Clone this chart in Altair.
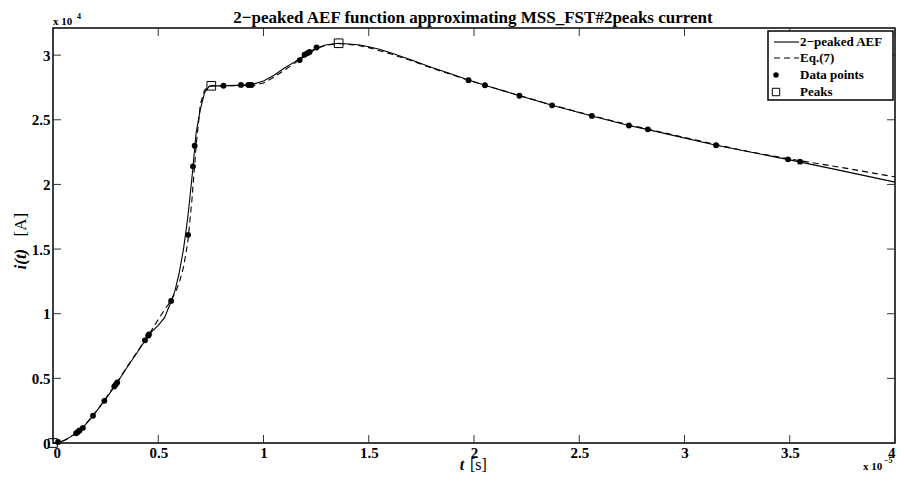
import altair as alt
import pandas as pd

# ---- data (t in units of 1e-5 s, i in units of 1e4 A) ----
t_fit = [0, 0.03, 0.06, 0.10, 0.14, 0.19, 0.244, 0.30, 0.35, 0.40, 0.456, 0.50, 0.53, 0.56,
         0.58, 0.60, 0.62, 0.64, 0.66, 0.68, 0.70, 0.72, 0.74, 0.752, 0.80, 0.90, 0.95, 1.00,
         1.05, 1.10, 1.15, 1.20, 1.25, 1.30, 1.357, 1.45, 1.50, 1.55, 1.60, 1.70, 1.80, 1.90,
         1.974, 2.052, 2.216, 2.371, 2.56, 2.736, 2.826, 3.15, 3.50, 3.75, 4.00]
i_fit = [0, 0.005, 0.025, 0.065, 0.115, 0.21, 0.326, 0.455, 0.58, 0.70, 0.84, 0.91, 0.97, 1.09,
         1.18, 1.32, 1.50, 1.74, 2.05, 2.40, 2.58, 2.71, 2.755, 2.763, 2.762, 2.768, 2.775, 2.80,
         2.845, 2.90, 2.95, 3.005, 3.055, 3.08, 3.092, 3.08, 3.065, 3.045, 3.02, 2.965, 2.905, 2.85,
         2.808, 2.767, 2.686, 2.612, 2.53, 2.456, 2.424, 2.303, 2.19, 2.105, 2.018]

t_eq7 = [0, 0.03, 0.06, 0.10, 0.14, 0.19, 0.244, 0.30, 0.35, 0.40, 0.456, 0.50, 0.53, 0.56,
         0.58, 0.60, 0.62, 0.64, 0.66, 0.68, 0.70, 0.72, 0.74, 0.76, 0.80, 0.90, 0.95, 1.00,
         1.05, 1.10, 1.15, 1.20, 1.25, 1.30, 1.36, 1.45, 1.50, 1.60, 1.70, 1.80, 1.974, 2.052,
         2.216, 2.371, 2.56, 2.736, 2.826, 3.15, 3.30, 3.50, 3.75, 4.00]
i_eq7 = [0, 0.005, 0.025, 0.066, 0.117, 0.213, 0.33, 0.46, 0.585, 0.705, 0.84, 0.955, 1.03, 1.10,
         1.16, 1.24, 1.36, 1.55, 1.88, 2.30, 2.62, 2.73, 2.76, 2.763, 2.762, 2.765, 2.765, 2.785,
         2.83, 2.885, 2.94, 2.995, 3.05, 3.078, 3.09, 3.075, 3.058, 3.012, 2.958, 2.90, 2.806, 2.767,
         2.688, 2.614, 2.533, 2.46, 2.428, 2.308, 2.256, 2.197, 2.13, 2.058]

t_data = [0.024, 0.110, 0.118, 0.126, 0.142, 0.190, 0.244, 0.291, 0.298, 0.305, 0.437, 0.452,
          0.456, 0.561, 0.642, 0.665, 0.673, 0.810, 0.893, 0.928, 0.936, 0.943, 1.172, 1.195,
          1.208, 1.219, 1.252, 1.974, 2.052, 2.216, 2.371, 2.560, 2.736, 2.826, 3.150, 3.492, 3.549]
i_data = [0.008, 0.076, 0.086, 0.097, 0.117, 0.211, 0.326, 0.437, 0.452, 0.468, 0.794, 0.83,
          0.84, 1.099, 1.61, 2.14, 2.30, 2.763, 2.77, 2.77, 2.77, 2.77, 2.962, 3.003,
          3.015, 3.025, 3.059, 2.806, 2.767, 2.686, 2.612, 2.530, 2.456, 2.426, 2.303, 2.194, 2.176]

t_peaks = [0.0, 0.752, 1.357]
i_peaks = [0.0, 2.763, 3.092]

x_ticks = [0, 0.5, 1, 1.5, 2, 2.5, 3, 3.5, 4]
y_ticks = [0, 0.5, 1, 1.5, 2, 2.5, 3]

title_text = "2\u2212peaked AEF function approximating MSS_FST#2peaks current"
legend_labels = ["2\u2212peaked AEF", "Eq.(7)", "Data points", "Peaks"]

# ---- chart ----
W, H = 842, 415
PAD = {"left": 45, "top": 20, "right": 1, "bottom": 31}
FONT = "Liberation Serif"
xs = alt.Scale(domain=[0, 4], nice=False, zero=False)
ys = alt.Scale(domain=[0, 3.21], nice=False, zero=False)

df_fit = pd.DataFrame({"t": t_fit, "i": i_fit})
df_eq7 = pd.DataFrame({"t": t_eq7, "i": i_eq7})
df_data = pd.DataFrame({"t": t_data, "i": i_data})
df_peaks = pd.DataFrame({"t": t_peaks, "i": i_peaks})
df_xt = pd.DataFrame({"t": x_ticks})
df_yt = pd.DataFrame({"i": y_ticks})
one = pd.DataFrame({"a": [0]})

x_axis = alt.Axis(values=x_ticks, labelExpr="datum.value", ticks=False, domain=False, grid=False,
                  title=None, labelFont=FONT, labelFontWeight="bold", labelFontSize=15,
                  labelColor="black", labelPadding=2)
y_axis = alt.Axis(values=y_ticks, labelExpr="datum.value", ticks=False, domain=False, grid=False,
                  title=None, labelFont=FONT, labelFontWeight="bold", labelFontSize=15,
                  labelColor="black", labelPadding=3)

fit = alt.Chart(df_fit).mark_line(color="black", strokeWidth=1.1).encode(
    x=alt.X("t:Q", scale=xs, axis=x_axis), y=alt.Y("i:Q", scale=ys, axis=y_axis))
eq7 = alt.Chart(df_eq7).mark_line(color="black", strokeWidth=1.1, strokeDash=[6, 4]).encode(
    x=alt.X("t:Q", scale=xs), y=alt.Y("i:Q", scale=ys))
pts = alt.Chart(df_data).mark_point(shape="circle", filled=True, color="black", size=34, opacity=1).encode(
    x=alt.X("t:Q", scale=xs), y=alt.Y("i:Q", scale=ys))
pks = alt.Chart(df_peaks).mark_point(shape="square", filled=False, color="black", size=75,
                                     strokeWidth=1, opacity=1).encode(
    x=alt.X("t:Q", scale=xs), y=alt.Y("i:Q", scale=ys))

TICK = 8
TCOL = "#333333"
xt_bot = alt.Chart(df_xt).mark_rule(color=TCOL, strokeWidth=1).encode(
    x=alt.X("t:Q", scale=xs), y=alt.value(H), y2=alt.value(H - TICK))
xt_top = alt.Chart(df_xt).mark_rule(color=TCOL, strokeWidth=1).encode(
    x=alt.X("t:Q", scale=xs), y=alt.value(0), y2=alt.value(TICK))
yt_left = alt.Chart(df_yt).mark_rule(color=TCOL, strokeWidth=1).encode(
    y=alt.Y("i:Q", scale=ys), x=alt.value(0), x2=alt.value(TICK))
yt_right = alt.Chart(df_yt).mark_rule(color=TCOL, strokeWidth=1).encode(
    y=alt.Y("i:Q", scale=ys), x=alt.value(W), x2=alt.value(W - TICK))


def txt(s, x, y, size=15, weight="bold", style="normal", align="center", angle=0, baseline="middle"):
    return alt.Chart(one).mark_text(text=s, font=FONT, fontSize=size, fontWeight=weight,
                                    fontStyle=style, align=align, baseline=baseline,
                                    angle=angle, color="black").encode(
        x=alt.value(x), y=alt.value(y))


title = txt(title_text, W / 2 - 1, -5, size=17, baseline="alphabetic")
xexp = txt("x 10", W - 32, H + 24, size=11, align="left") + txt("\u22125", W - 11, H + 18, size=8, align="left")
yexp = txt("x 10", 0, -6, size=11, align="left") + txt("4", 24, -11, size=8, align="left")
xtitle = txt("t", W / 2 - 12, H + 27, size=16, style="italic", align="center", baseline="alphabetic") + \
    txt("[s]", W / 2 - 4, H + 27, size=16, weight="normal", align="left", baseline="alphabetic")
ytitle = txt("i(t)", -32, H / 2 + 34, size=17, style="italic", align="left", angle=270) + \
    txt("[A]", -32, H / 2 + 1, size=17, weight="normal", align="left", angle=270)

# legend
LX1 = W - 2
LX0 = LX1 - 125
LY0, LY1 = 3, 72
rows = [14, 30, 47, 64]
leg_box = alt.Chart(one).mark_rect(fill="white", stroke="black", strokeWidth=1.5).encode(
    x=alt.value(LX0), x2=alt.value(LX1), y=alt.value(LY0), y2=alt.value(LY1))
leg_solid = alt.Chart(one).mark_rule(color="black", strokeWidth=1.1).encode(
    x=alt.value(LX0 + 6), x2=alt.value(LX0 + 31), y=alt.value(rows[0]))
leg_dash = alt.Chart(one).mark_rule(color="black", strokeWidth=1.1, strokeDash=[6, 4]).encode(
    x=alt.value(LX0 + 6), x2=alt.value(LX0 + 31), y=alt.value(rows[1]))
leg_dot = alt.Chart(one).mark_point(shape="circle", filled=True, color="black", size=30, opacity=1).encode(
    x=alt.value(LX0 + 8), y=alt.value(rows[2]))
leg_sq = alt.Chart(one).mark_point(shape="square", filled=False, color="black", size=55,
                                   strokeWidth=1, opacity=1).encode(
    x=alt.value(LX0 + 8), y=alt.value(rows[3]))
leg_text = [txt(lbl, LX0 + 32, r, size=13, align="left") for lbl, r in zip(legend_labels, rows)]

chart = alt.layer(
    xt_bot, xt_top, yt_left, yt_right, eq7, fit, pts, pks,
    leg_box, leg_solid, leg_dash, leg_dot, leg_sq, *leg_text,
    title, xexp, yexp, xtitle, ytitle,
).properties(
    width=W, height=H,
    autosize=alt.AutoSizeParams(type="none"),
    padding=PAD,
    background="white",
).configure_view(stroke="black", strokeWidth=1.5)

chart.save("out.html", embed_options={"renderer": "svg", "actions": False})
